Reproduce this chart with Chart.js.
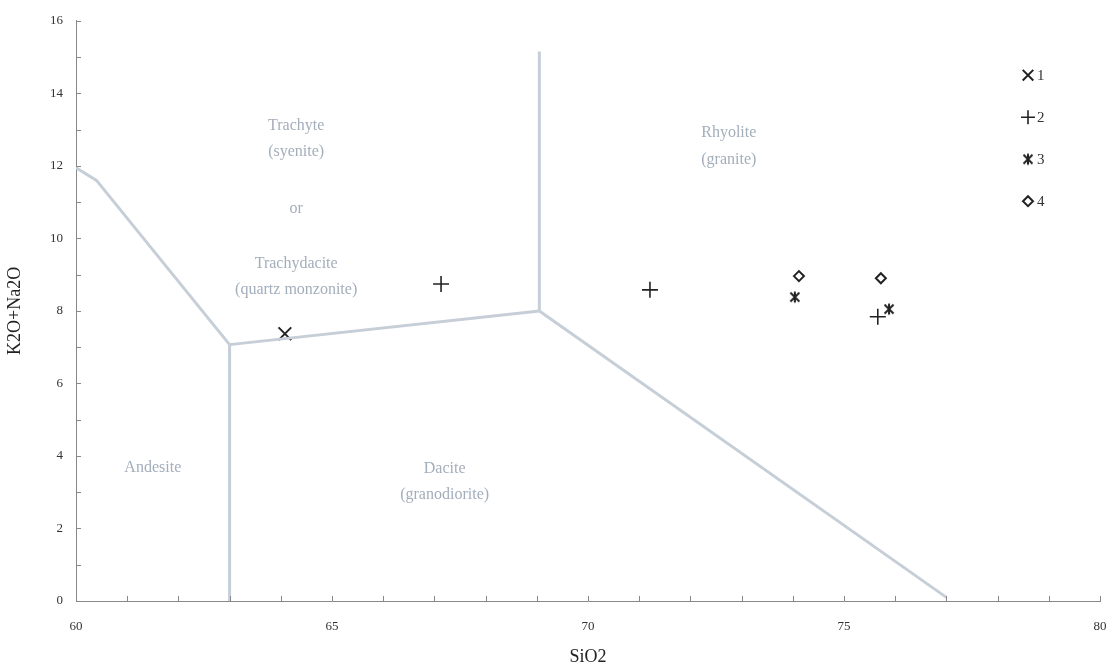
<!DOCTYPE html>
<html>
<head>
    <title>TAS diagram</title>
    <script src="https://cdn.jsdelivr.net/npm/chart.js"></script>
    <style>
        html, body { margin: 0; padding: 0; background: #fff; }
        .chart-container { width: 1115px; height: 672px; position: relative; }
    </style>
</head>
<body>
    <div class="chart-container">
        <canvas id="tasChart"></canvas>
    </div>

    <script>
        // Samples (SiO2, K2O+Na2O)
        const series1 = [{ x: 64.08, y: 7.37 }];
        const series2 = [{ x: 67.13, y: 8.74 }, { x: 71.21, y: 8.58 }, { x: 75.66, y: 7.84 }];
        const series3 = [{ x: 74.04, y: 8.38 }, { x: 75.88, y: 8.05 }];
        const series4 = [{ x: 74.12, y: 8.96 }, { x: 75.72, y: 8.90 }];
        const seriesNames = ['1', '2', '3', '4'];

        // Field boundaries
        const lineTrachyteLeft = [{ x: 60, y: 11.95 }, { x: 60.4, y: 11.6 }, { x: 63, y: 7.07 }];
        const lineAndesiteDacite = [{ x: 63, y: 7.07 }, { x: 63, y: 0 }];
        const lineTrachyBase = [{ x: 63, y: 7.07 }, { x: 69.05, y: 8.0 }];
        const lineTrachyRhyolite = [{ x: 69.05, y: 8.0 }, { x: 69.05, y: 15.15 }];
        const lineDaciteRhyolite = [{ x: 69.05, y: 8.0 }, { x: 77.0, y: 0.1 }];

        // Field names, placed in data units
        const fieldLabels = [
            { text: 'Trachyte', x: 64.3, y: 13.1 },
            { text: '(syenite)', x: 64.3, y: 12.38 },
            { text: 'or', x: 64.3, y: 10.82 },
            { text: 'Trachydacite', x: 64.3, y: 9.3 },
            { text: '(quartz monzonite)', x: 64.3, y: 8.58 },
            { text: 'Rhyolite', x: 72.75, y: 12.9 },
            { text: '(granite)', x: 72.75, y: 12.16 },
            { text: 'Andesite', x: 61.5, y: 3.67 },
            { text: 'Dacite', x: 67.2, y: 3.65 },
            { text: '(granodiorite)', x: 67.2, y: 2.93 }
        ];

        const ink = '#222';
        const fieldColor = '#c6ced8';
        const fieldText = '#a3aebb';
        const serif = "'Liberation Serif', 'DejaVu Serif', serif";

        // six-armed star marker
        function makeStar() {
            const c = document.createElement('canvas');
            c.width = 14; c.height = 14;
            const g = c.getContext('2d');
            g.strokeStyle = ink;
            g.lineWidth = 2;
            g.beginPath();
            g.moveTo(2.5, 2.5); g.lineTo(11.5, 11.5);
            g.moveTo(11.5, 2.5); g.lineTo(2.5, 11.5);
            g.moveTo(7, 1.5); g.lineTo(7, 12.5);
            g.stroke();
            return c;
        }
        const star = makeStar();

        function boundary(data) {
            return {
                type: 'line', data: data, showLine: true, pointRadius: 0,
                borderColor: fieldColor, borderWidth: 3, fill: false, tension: 0
            };
        }

        const markerStyles = [
            { pointStyle: 'crossRot', radius: 9, borderWidth: 2 },
            { pointStyle: 'cross', radius: 8, borderWidth: 1.6 },
            { pointStyle: star, radius: 7, borderWidth: 1 },
            { pointStyle: 'rectRot', radius: 5, borderWidth: 2 }
        ];

        function samples(data, i) {
            const m = markerStyles[i];
            return {
                type: 'scatter', label: seriesNames[i], data: data,
                pointStyle: m.pointStyle, pointRadius: m.radius,
                pointBorderWidth: m.borderWidth,
                borderColor: ink, backgroundColor: 'rgba(0,0,0,0)'
            };
        }

        // field names, inward ticks and the legend in the top right corner
        const extras = {
            id: 'extras',
            afterDatasetsDraw(chart) {
                const ctx = chart.ctx;
                const xs = chart.scales.x, ys = chart.scales.y;
                ctx.save();
                ctx.font = '16px ' + serif;
                ctx.fillStyle = fieldText;
                ctx.textAlign = 'center';
                ctx.textBaseline = 'middle';
                fieldLabels.forEach(l => {
                    ctx.fillText(l.text, xs.getPixelForValue(l.x), ys.getPixelForValue(l.y));
                });

                // inward minor ticks
                ctx.strokeStyle = '#888';
                ctx.lineWidth = 1;
                ctx.beginPath();
                const yb = ys.getPixelForValue(0);
                for (let v = 61; v <= 80; v++) {
                    const px = Math.round(xs.getPixelForValue(v)) + 0.5;
                    ctx.moveTo(px, yb); ctx.lineTo(px, yb - 5);
                }
                const xl = xs.getPixelForValue(60);
                for (let v = 1; v <= 16; v++) {
                    const py = Math.round(ys.getPixelForValue(v)) + 0.5;
                    ctx.moveTo(xl, py); ctx.lineTo(xl + 5, py);
                }
                ctx.stroke();

                // legend
                const lx = chart.chartArea.right - 72;
                const ly0 = ys.getPixelForValue(14.5);
                ctx.font = '15px ' + serif;
                ctx.textAlign = 'left';
                chart.data.datasets.forEach(ds => {
                    if (ds.type !== 'scatter') return;
                    const i = seriesNames.indexOf(ds.label);
                    const y = ly0 + i * 42;
                    const r = ds.pointStyle === 'crossRot' ? 7.5 : ds.pointStyle === 'cross' ? 7 : ds.pointRadius;
                    ctx.strokeStyle = ink;
                    ctx.lineWidth = ds.pointBorderWidth;
                    ctx.fillStyle = '#fff';
                    Chart.helpers.drawPoint(ctx, {
                        pointStyle: ds.pointStyle, radius: r,
                        borderWidth: ds.pointBorderWidth, rotation: 0
                    }, lx, y);
                    ctx.fillStyle = '#333';
                    ctx.fillText(ds.label, lx + 9, y + 1);
                });
                ctx.restore();
            }
        };

        const ctx = document.getElementById('tasChart').getContext('2d');
        const chart = new Chart(ctx, {
            data: {
                datasets: [
                    boundary(lineTrachyteLeft),
                    boundary(lineAndesiteDacite),
                    boundary(lineTrachyBase),
                    boundary(lineTrachyRhyolite),
                    boundary(lineDaciteRhyolite),
                    samples(series1, 0),
                    samples(series2, 1),
                    samples(series3, 2),
                    samples(series4, 3)
                ]
            },
            options: {
                responsive: true,
                maintainAspectRatio: false,
                animation: false,
                layout: { padding: { top: 10, right: 15, left: 0, bottom: 0 } },
                plugins: { legend: { display: false }, tooltip: { enabled: false } },
                scales: {
                    x: {
                        type: 'linear', min: 60, max: 80,
                        border: { color: '#888', width: 1 },
                        // tick marks are drawn inward by the plugin; the hidden tick length just spaces the labels
                        grid: { display: false, drawTicks: true, tickLength: 16 },
                        ticks: {
                            stepSize: 1, padding: 2, color: '#333', maxRotation: 0,
                            autoSkip: false,
                            font: { family: serif, size: 13 },
                            callback: v => (v % 5 === 0 ? v : '')
                        },
                        title: {
                            display: true, text: 'SiO2', color: '#222',
                            font: { family: serif, size: 18 }, padding: { top: 6 }
                        },
                        afterFit: s => { s.height = 71; }
                    },
                    y: {
                        type: 'linear', min: 0, max: 16,
                        border: { color: '#888', width: 1 },
                        grid: { display: false, drawTicks: false },
                        ticks: {
                            stepSize: 1, padding: 13, color: '#333', autoSkip: false,
                            font: { family: serif, size: 13 },
                            callback: v => (v % 2 === 0 ? v : '')
                        },
                        title: {
                            display: true, text: 'K2O+Na2O', color: '#222',
                            font: { family: serif, size: 18 }, padding: { bottom: 8 }
                        },
                        afterFit: s => { s.width = 76; }
                    }
                }
            },
            plugins: [extras]
        });
    </script>
</body>
</html>
